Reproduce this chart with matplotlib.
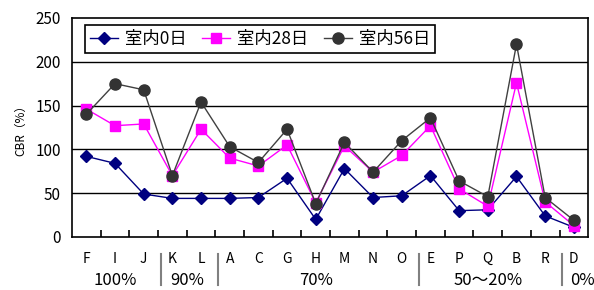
import numpy as np
import matplotlib
matplotlib.use("Agg")
import matplotlib.pyplot as plt
from matplotlib.transforms import blended_transform_factory

plt.rcParams["font.family"] = ["Noto Sans CJK JP", "DejaVu Sans"]

# ── data ──
categories = ["F", "I", "J", "K", "L", "A", "C", "G", "H", "M", "N", "O", "E", "P", "Q", "B", "R", "D"]
day0 = [92, 84, 49, 44, 44, 44, 45, 67, 20, 78, 45, 47, 70, 30, 31, 69, 24, 11]
day28 = [146, 127, 129, 70, 123, 90, 81, 105, 39, 104, 74, 93, 127, 55, 35, 176, 40, 13]
day56 = [140, 175, 168, 70, 154, 103, 85, 123, 38, 108, 74, 110, 136, 64, 46, 220, 45, 19]
series_names = ["室内0日", "室内28日", "室内56日"]
groups = ["100%", "90%", "70%", "50〜20%", "0%"]
group_sizes = [3, 2, 7, 5, 1]

fig = plt.figure(figsize=(5.94, 2.90), dpi=100)
ax = fig.add_axes([0.1212, 0.183, 0.869, 0.755])

x = np.arange(len(categories))
ax.plot(x, day0, color="#000080", lw=1, marker="D", ms=6.5, label=series_names[0], zorder=3)
ax.plot(x, day28, color="#FF00FF", lw=1, marker="s", ms=7.5, label=series_names[1], zorder=4)
ax.plot(x, day56, color="#404040", lw=1, marker="o", ms=8, mfc="#333333", mec="#333333",
        label=series_names[2], zorder=5)

ax.set_xlim(-0.5, len(categories) - 0.5)
ax.set_ylim(0, 250)
ax.set_yticks(range(0, 251, 50))
for y in range(50, 250, 50):
    ax.axhline(y, color="black", lw=1, zorder=1)
for s in ax.spines.values():
    s.set_linewidth(1.2)

ax.set_xticks(x)
ax.set_xticklabels(categories, fontsize=10)
ax.set_xticks(np.arange(0.5, len(categories) - 0.5), minor=True)
ax.tick_params(axis="x", which="major", length=0, pad=11)
ax.tick_params(axis="x", which="minor", direction="in", length=5, width=1.2)
ax.tick_params(axis="y", length=0, labelsize=11, pad=8)
ax.set_ylabel("CBR（%）", fontsize=8.5, labelpad=6)

# group labels and separators below the axis
trans = blended_transform_factory(ax.transData, ax.transAxes)
start = 0
for i, (g, n) in enumerate(zip(groups, group_sizes)):
    center = start + (n - 1) / 2
    if g == "0%":
        center += 0.3
    ax.text(center, -0.197, g, transform=trans, ha="center", va="center", fontsize=12)
    if i > 0:
        ax.plot([start - 0.4, start - 0.4], [-0.08, -0.22], transform=trans,
                color="#808080", lw=1.5, clip_on=False)
    start += n

leg = ax.legend(loc="upper left", ncol=3, fontsize=12.5, frameon=True, fancybox=False,
                edgecolor="black", framealpha=1, handlelength=1.6, handletextpad=0.4,
                columnspacing=0.9, borderpad=0.3, borderaxespad=0,
                bbox_to_anchor=(0.025, 0.97))
leg.get_frame().set_linewidth(1.2)

fig.savefig("out.png", dpi=100)
